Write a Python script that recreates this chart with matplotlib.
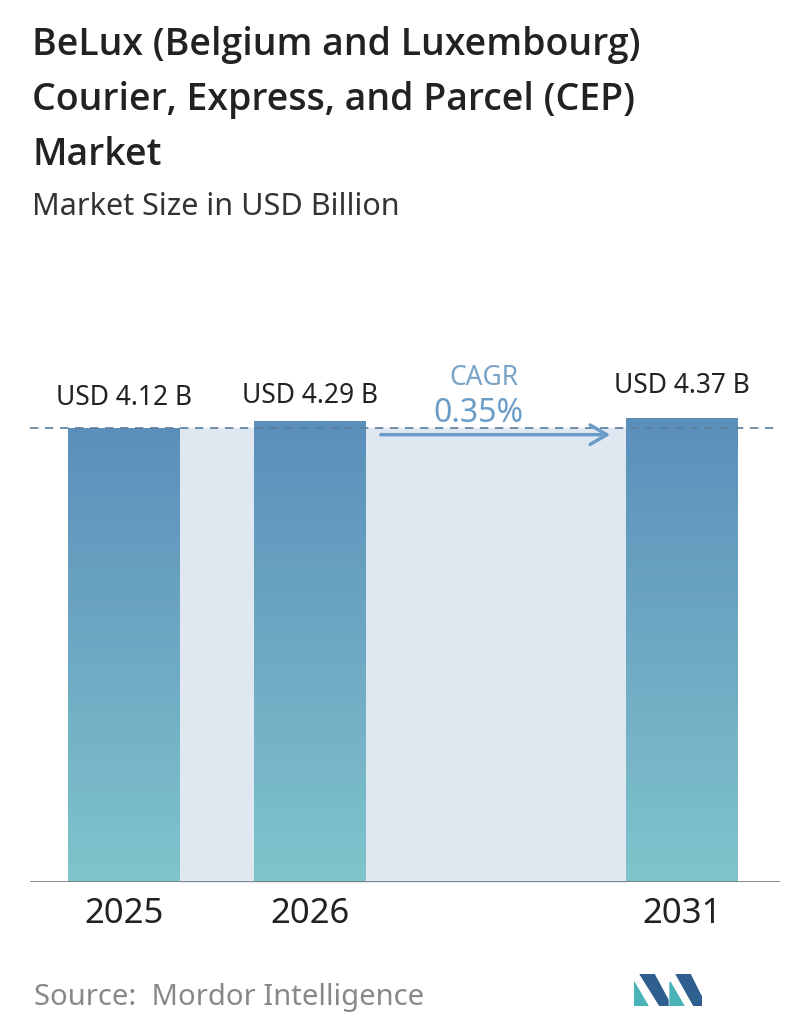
import matplotlib.pyplot as plt
import numpy as np
from matplotlib.patches import Polygon
from matplotlib.colors import LinearSegmentedColormap

years = ["2025", "2026", "2031"]
values = [4.12, 4.29, 4.37]
labels = ["USD 4.12 B", "USD 4.29 B", "USD 4.37 B"]
cagr = "0.35%"

W, H = 796, 1034
fig = plt.figure(figsize=(W / 100, H / 100), dpi=100)
plt.rcParams["font.family"] = ["Noto Sans", "DejaVu Sans"]

# axes in pixel terms: baseline at y=882, left edge x=30
ax = fig.add_axes([30 / W, (H - 882) / H, 750 / W, 552 / H])
base = -7.2
ax.axis("off")

xs = [94, 280, 652]
bw = 112

# shaded band between bars
ax.fill_between([150, 596], base, values[0], color="#dfe8f1", zorder=0)

grad = np.linspace(0, 1, 256).reshape(-1, 1)
cmap = LinearSegmentedColormap.from_list("g", ["#80c4cc", "#5b8fbb"])
for x, v in zip(xs, values):
    bar = ax.bar(x, v - base, bottom=base, width=bw, color="none", zorder=2)[0]
    im = ax.imshow(grad, extent=[x - bw / 2, x + bw / 2, base, v], origin="lower",
                   cmap=cmap, aspect="auto", zorder=2)
    im.set_clip_path(bar)
ax.set_xlim(0, 750)
ax.set_ylim(base, 6.56)

ax.axhline(values[0], color="#5a7e9c", lw=1.2, ls=(0, (5, 4)), zorder=3)
ax.axhline(base, color="#777777", lw=1.2, zorder=3)

label_y = [398, 396, 386]
for x, lab, yr, ly in zip(xs, labels, years, label_y):
    fig.text((x + 30) / W, 1 - ly / H, lab, ha="center", va="center",
             fontsize=19, color="#222222")
    fig.text((x + 30) / W, 1 - 914 / H, yr, ha="center", va="center",
             fontsize=25, color="#222222")

ax.annotate("", xy=(583, 3.95), xytext=(348, 3.95),
            arrowprops=dict(arrowstyle="->,head_length=1.2,head_width=0.7",
                            color="#6a9cc8", lw=2.5), zorder=4)
fig.text(484 / W, 1 - 378 / H, "CAGR", ha="center", va="center",
         fontsize=19, color="#7aa3c8")
fig.text(478 / W, 1 - 414 / H, cagr, ha="center", va="center",
         fontsize=23, color="#6a9cc8")

title_lines = ["BeLux (Belgium and Luxembourg)",
               "Courier, Express, and Parcel (CEP)",
               "Market"]
for i, line in enumerate(title_lines):
    fig.text(32 / W, 1 - (45 + 55 * i) / H, line, ha="left", va="center",
             fontsize=27, fontweight="semibold", family=["Open Sans", "DejaVu Sans"],
             color="#222222")
fig.text(32 / W, 1 - 207 / H, "Market Size in USD Billion", ha="left",
         va="center", fontsize=22, color="#333333")
fig.text(34 / W, 1 - 997 / H, "Source:  Mordor Intelligence", ha="left",
         va="center", fontsize=21, color="#888888")

# logo
lax = fig.add_axes([634 / W, 1 - 1006 / H, 68 / W, 32 / H])
lax.set_xlim(0, 68)
lax.set_ylim(0, 32)
lax.axis("off")
lax.add_patch(Polygon([[0, 0], [0, 24], [14, 0]], color="#49b3b8"))
lax.add_patch(Polygon([[6, 32], [20, 32], [34, 6], [34, 0], [26, 0]], color="#2f5f8f"))
lax.add_patch(Polygon([[36, 0], [36, 24], [50, 0]], color="#49b3b8"))
lax.add_patch(Polygon([[42, 32], [56, 32], [68, 8], [68, 0], [60, 0]], color="#2f5f8f"))

fig.savefig("out.png", dpi=100)
